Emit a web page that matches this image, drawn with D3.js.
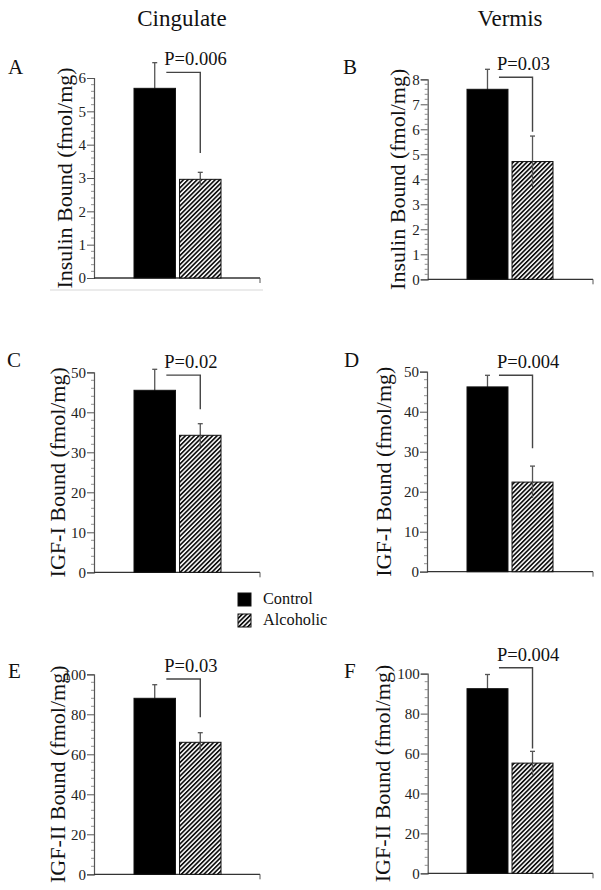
<!DOCTYPE html>
<html><head><meta charset="utf-8">
<script src="https://cdn.jsdelivr.net/npm/d3@7"></script>
<style>body{margin:0;background:#fff}</style>
</head><body>
<script>
// ---------- data ----------
const columnTitles = ["Cingulate", "Vermis"];
const groups = ["Control", "Alcoholic"];
const panelLetters = ["A", "B", "C", "D", "E", "F"];
const yLabels = ["Insulin Bound (fmol/mg)", "Insulin Bound (fmol/mg)",
                 "IGF-I Bound (fmol/mg)", "IGF-I Bound (fmol/mg)",
                 "IGF-II Bound (fmol/mg)", "IGF-II Bound (fmol/mg)"];
const yMax = [6, 8, 50, 50, 100, 100];
const yStep = [1, 1, 10, 10, 20, 20];
const controlMeans = [5.69, 7.6, 45.5, 46.2, 88, 92.5];
const controlErr = [0.77, 0.8, 5.25, 2.9, 6.8, 7.1];
const alcoholicMeans = [2.96, 4.71, 34.25, 22.4, 66, 55.2];
const alcoholicErr = [0.21, 1.02, 2.9, 4.0, 4.8, 5.9];
const pLabels = ["P=0.006", "P=0.03", "P=0.02", "P=0.004", "P=0.03", "P=0.004"];
const bracketTop = [6.17, 8.08, 49.3, 49.1, 97.65, 103];
const bracketDrop = [3.75, 5.9, 40.75, 30.85, 78.5, 62.5];

// ---------- layout ----------
const layout = [
  {x0: 94,    x1: 260, top: 78,    bottom: 278,   lx: 8,   ly: 74,  labX: 72,  bars: [134, 221]},
  {x0: 427.7, x1: 593, top: 79.3,  bottom: 279.3, lx: 343, ly: 74,  labX: 405, bars: [467, 553]},
  {x0: 94,    x1: 260, top: 372.3, bottom: 572.3, lx: 7,   ly: 367, labX: 65,  bars: [134, 221]},
  {x0: 427,   x1: 593, top: 371.7, bottom: 571.7, lx: 344, ly: 367, labX: 391, bars: [467, 553]},
  {x0: 94,    x1: 260, top: 674.3, bottom: 874.3, lx: 8,   ly: 678, labX: 65,  bars: [134, 221]},
  {x0: 427.7, x1: 593, top: 673.7, bottom: 873.3, lx: 344, ly: 678, labX: 390, bars: [467, 553]}
];
const FONT = "Liberation Serif";

const svg = d3.select("body").append("svg")
  .attr("width", 601).attr("height", 890)
  .attr("font-family", FONT);

const defs = svg.append("defs");
const pat = defs.append("pattern").attr("id", "hatch")
  .attr("patternUnits", "userSpaceOnUse")
  .attr("width", 3.2).attr("height", 3.2)
  .attr("patternTransform", "rotate(45)");
pat.append("rect").attr("width", 3.2).attr("height", 3.2).attr("fill", "#fff");
pat.append("rect").attr("x", 0).attr("y", 0).attr("width", 1.7).attr("height", 3.2).attr("fill", "#111");

// column titles
const titleX = [182, 510];
svg.selectAll("text.coltitle").data(columnTitles).join("text")
  .attr("class", "coltitle").attr("font-family", FONT)
  .attr("x", (d, i) => titleX[i]).attr("y", 26)
  .attr("text-anchor", "middle").attr("font-size", 23).attr("fill", "#111")
  .text(d => d);

layout.forEach((L, i) => {
  const g = svg.append("g");
  const y = d3.scaleLinear().domain([0, yMax[i]]).range([L.bottom, L.top]);
  const x = d3.scaleBand().domain(groups).range(L.bars).paddingInner(0.09);

  // minor ticks
  const minors = d3.range(0, yMax[i] + 1e-9, yStep[i] / 5)
    .filter(v => Math.abs(v / yStep[i] - Math.round(v / yStep[i])) > 1e-6);
  g.selectAll("line.minor").data(minors).join("line")
    .attr("x1", L.x0 - 3).attr("x2", L.x0)
    .attr("y1", d => y(d)).attr("y2", d => y(d))
    .attr("stroke", "#777").attr("stroke-width", 0.8);

  // y axis
  const ax = g.append("g").attr("transform", `translate(${L.x0},0)`)
    .call(d3.axisLeft(y).tickValues(d3.range(0, yMax[i] + 1e-9, yStep[i]))
      .tickSize(7).tickPadding(1).tickFormat(d3.format("d")));
  ax.attr("font-family", FONT).attr("font-size", 15);
  ax.select(".domain").attr("stroke", "#555").attr("stroke-width", 1.2);
  ax.selectAll(".tick line").attr("stroke", "#555").attr("stroke-width", 1);
  ax.selectAll(".tick text").attr("font-family", FONT).attr("fill", "#222");

  // x axis
  g.append("line").attr("x1", L.x0).attr("x2", L.x1)
    .attr("y1", L.bottom).attr("y2", L.bottom)
    .attr("stroke", "#333").attr("stroke-width", 1.3);
  g.append("line").attr("x1", L.x1).attr("x2", L.x1)
    .attr("y1", L.bottom).attr("y2", L.bottom + 5)
    .attr("stroke", "#555").attr("stroke-width", 1);

  const means = [controlMeans[i], alcoholicMeans[i]];
  const errs = [controlErr[i], alcoholicErr[i]];
  const rows = groups.map((gname, k) => ({g: gname, m: means[k], e: errs[k]}));

  // error bars (upper part + cap)
  const eb = g.selectAll("g.err").data(rows).join("g").attr("class", "err");
  eb.append("line")
    .attr("x1", d => x(d.g) + x.bandwidth() / 2).attr("x2", d => x(d.g) + x.bandwidth() / 2)
    .attr("y1", d => y(d.m - d.e)).attr("y2", d => y(d.m + d.e))
    .attr("stroke", "#555").attr("stroke-width", 1.3);
  eb.append("line")
    .attr("x1", d => x(d.g) + x.bandwidth() / 2 - 2.5).attr("x2", d => x(d.g) + x.bandwidth() / 2 + 2.5)
    .attr("y1", d => y(d.m + d.e)).attr("y2", d => y(d.m + d.e))
    .attr("stroke", "#555").attr("stroke-width", 1.3);

  // bars
  g.selectAll("rect.bar").data(rows).join("rect").attr("class", "bar")
    .attr("x", d => x(d.g)).attr("width", x.bandwidth())
    .attr("y", d => y(d.m)).attr("height", d => y(0) - y(d.m))
    .attr("fill", d => d.g === "Control" ? "#000" : "url(#hatch)")
    .attr("stroke", "#111").attr("stroke-width", 1);

  // lower error part visible within hatched bar
  const a = rows[1];
  g.append("line")
    .attr("x1", x(a.g) + x.bandwidth() / 2).attr("x2", x(a.g) + x.bandwidth() / 2)
    .attr("y1", y(a.m)).attr("y2", y(a.m - a.e))
    .attr("stroke", "#555").attr("stroke-width", 1.3);

  // significance bracket
  const bx1 = x("Control") + x.bandwidth() * 0.78;
  const bx2 = x("Alcoholic") + x.bandwidth() / 2;
  g.append("path")
    .attr("d", `M${bx1},${y(bracketTop[i])}H${bx2}V${y(bracketDrop[i])}`)
    .attr("fill", "none").attr("stroke", "#444").attr("stroke-width", 1.4);
  g.append("text").attr("x", bx1 - 2).attr("y", y(bracketTop[i]) - 7)
    .attr("font-family", FONT)
    .attr("font-size", 18.5).attr("fill", "#111").text(pLabels[i]);

  // panel letter
  g.append("text").attr("x", L.lx).attr("y", L.ly).attr("font-family", FONT)
    .attr("font-size", 21).attr("fill", "#111").text(panelLetters[i]);

  // y label
  g.append("text").attr("font-family", FONT)
    .attr("transform", `translate(${L.labX},${(L.top + L.bottom) / 2}) rotate(-90)`)
    .attr("text-anchor", "middle").attr("font-size", 22).attr("fill", "#111")
    .text(yLabels[i]);
});

// faint line under panel A
svg.append("line").attr("x1", 50).attr("x2", 263).attr("y1", 290).attr("y2", 290)
  .attr("stroke", "#d8d8d8").attr("stroke-width", 1.2);

// legend
const legY = [593, 614];
const leg = svg.selectAll("g.leg").data(groups).join("g").attr("class", "leg");
leg.append("rect").attr("x", 238).attr("y", (d, k) => legY[k])
  .attr("width", 13).attr("height", 13)
  .attr("fill", d => d === "Control" ? "#000" : "url(#hatch)")
  .attr("stroke", "#111").attr("stroke-width", 1);
leg.append("text").attr("x", 263).attr("y", (d, k) => legY[k] + 10.5)
  .attr("font-family", FONT)
  .attr("font-size", 16.3).attr("fill", "#111").text(d => d);
</script>
</body></html>
